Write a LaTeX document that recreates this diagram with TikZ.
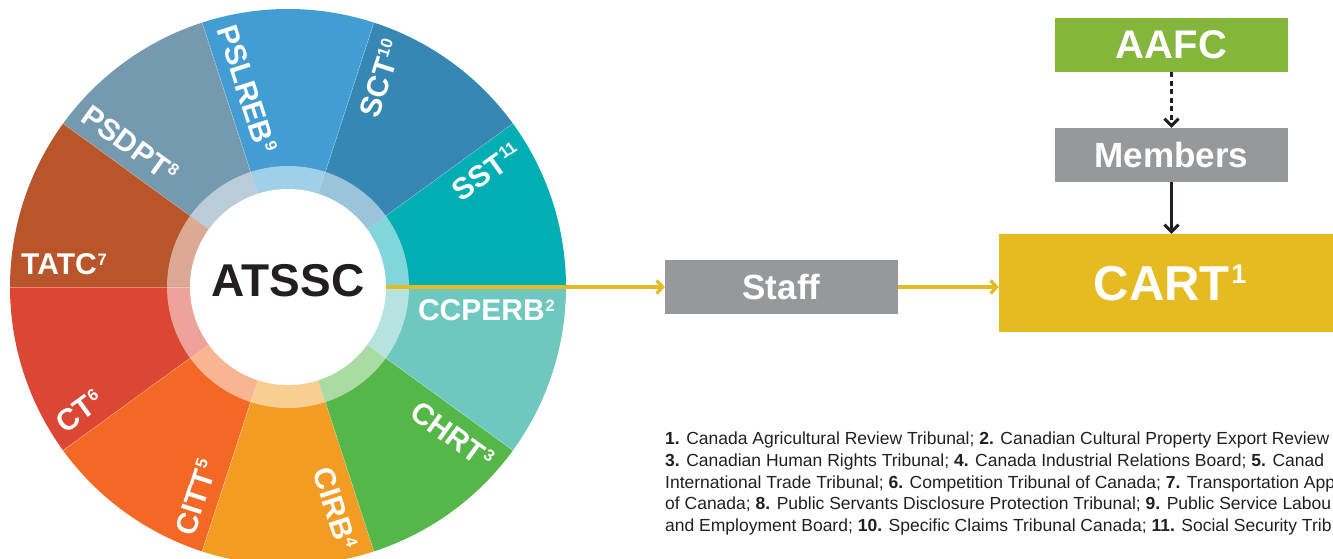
\documentclass[tikz,border=0pt]{standalone}
\usepackage{fontspec}
\setmainfont{Liberation Sans}
\usetikzlibrary{arrows.meta,calc}

\definecolor{cSST}{HTML}{00AEB4}
\definecolor{cSCT}{HTML}{3787B5}
\definecolor{cPSLREB}{HTML}{429ED2}
\definecolor{cPSDPT}{HTML}{7599AF}
\definecolor{cTATC}{HTML}{B8552A}
\definecolor{cCT}{HTML}{DC4733}
\definecolor{cCITT}{HTML}{F26824}
\definecolor{cCIRB}{HTML}{F39C24}
\definecolor{cCHRT}{HTML}{55B748}
\definecolor{cCCPERB}{HTML}{6FC8BF}
\definecolor{boxgray}{HTML}{97989A}
\definecolor{aafcgreen}{HTML}{84B63B}
\definecolor{cartgold}{HTML}{E6BA21}
\definecolor{inkblack}{HTML}{231F20}

% small raised note number
\newcommand\notenum[1]{\kern.03em\raisebox{.33em}{\scalebox{.55}{#1}}}

\begin{document}
\begin{tikzpicture}[x=1pt,y=1pt,
  tribunal/.style={text=white,font=\bfseries\fontsize{30}{30}\selectfont,inner sep=0pt},
  unit/.style={fill=boxgray,text=white,font=\bfseries\fontsize{35}{35}\selectfont,
    minimum width=233pt,minimum height=54pt,inner sep=0pt},
  feed/.style={draw=cartgold,line width=3.3pt,-{Straight Barb[length=6pt,width=13pt]}},
  link/.style={draw=inkblack,line width=3pt,-{Straight Barb[length=7pt,width=14pt]}}]

\useasboundingbox (0,0) rectangle (1333,559);
\clip (0,0) rectangle (1333,559);

\begin{scope}[shift={(288,272)}]
\foreach \c/\a in {cSST/0,cSCT/36,cPSLREB/72,cPSDPT/108,cTATC/144,
                   cCT/180,cCITT/216,cCIRB/252,cCHRT/288,cCCPERB/324}{
  \fill[\c] (0,0) -- (\a:278) arc[start angle=\a,delta angle=36,radius=278] -- cycle;
  \fill[\c!50!white] (0,0) -- (\a:121) arc[start angle=\a,delta angle=36,radius=121] -- cycle;
}
\foreach \a in {0,36,...,324}
  \draw[white,opacity=.35,line width=.5pt] (0,0) -- (\a:278);

% right half reads outwards, left half inwards
\foreach \t/\n/\u in {SST/11/36,SCT/10/72,CIRB/4/288,CHRT/3/324,CCPERB/2/360}
  \node[tribunal,rotate=\u,anchor=base east] at ($(\u:267)+(\u-90:34)$) {\t\notenum{\n}};
\foreach \t/\n/\u in {PSLREB/9/108,PSDPT/8/144,TATC/7/180,CT/6/216,CITT/5/252}
  \node[tribunal,rotate=\u-180,anchor=base west] at ($(\u:267)+(\u-90:12)$) {\t\notenum{\n}};

\node[circle,fill=white,minimum size=196pt,inner sep=0pt] (hub) at (0,0) {};
\node[text=inkblack,font=\bfseries\fontsize{46}{46}\selectfont] (atssc) at (0,6) {ATSSC};
\end{scope}

\node[unit,fill=aafcgreen,font=\bfseries\fontsize{40}{40}\selectfont] (aafc) at (1171.5,514) {AAFC};
\node[unit] (members) at (1171.5,404) {Members};
\node[unit] (staff) at (781.5,272) {Staff};
\node[unit,fill=cartgold,minimum width=342pt,minimum height=98pt,
  font=\bfseries\fontsize{49}{49}\selectfont] (cart) at (1170,276) {CART\notenum{1}};

\draw[link,dash pattern=on 5pt off 3.5pt] (aafc) -- (members);
\draw[link] (members.south) -- (members.south |- cart.north);
\draw[feed] (hub) -- (staff);
\draw[feed] (staff) -- (staff -| cart.west);

\node[anchor=north west,align=left,inner sep=0pt,text=inkblack,
  font=\fontsize{17.5}{21.6}\selectfont] (notes) at (665,127) {%
\textbf{1.} Canada Agricultural Review Tribunal; \textbf{2.} Canadian Cultural Property Export Review\\
\textbf{3.} Canadian Human Rights Tribunal; \textbf{4.} Canada Industrial Relations Board; \textbf{5.} Canad\\
International Trade Tribunal; \textbf{6.} Competition Tribunal of Canada; \textbf{7.} Transportation App\\
of Canada; \textbf{8.} Public Servants Disclosure Protection Tribunal; \textbf{9.} Public Service Labou\\
and Employment Board; \textbf{10.} Specific Claims Tribunal Canada; \textbf{11.} Social Security Trib};
\end{tikzpicture}
\end{document}
